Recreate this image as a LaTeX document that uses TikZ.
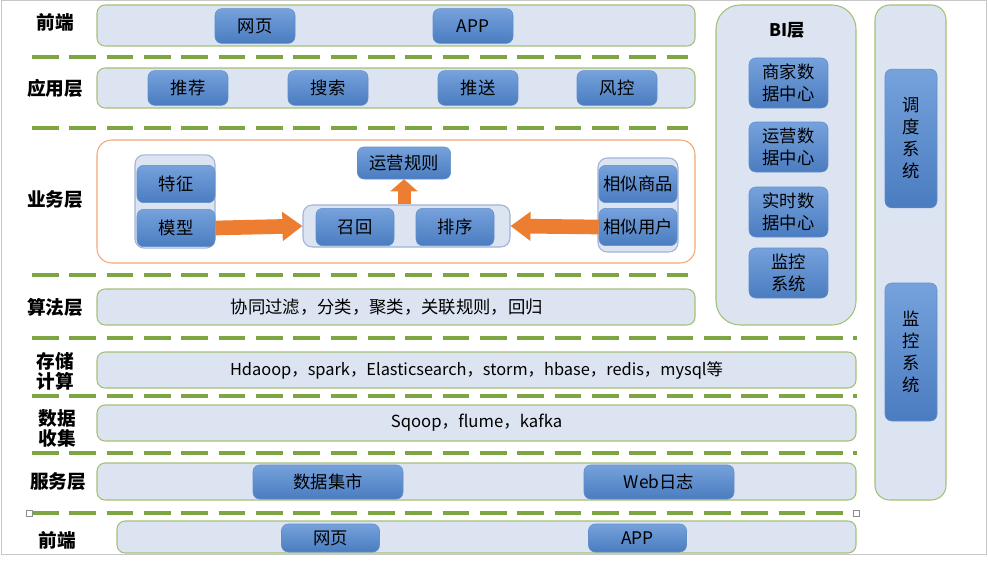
\documentclass[tikz,border=0pt]{standalone}
\usepackage{fontspec}
\setmainfont{Noto Sans CJK SC}
\usepackage{tikz}
\usetikzlibrary{positioning}
\usetikzlibrary{arrows.meta}
\usetikzlibrary{calc}
\definecolor{layerfill}{RGB}{220,227,241}
\definecolor{layerline}{RGB}{165,192,118}
\definecolor{sepgreen}{RGB}{125,165,65}
\definecolor{boxtop}{RGB}{118,162,220}
\definecolor{boxbot}{RGB}{74,124,192}
\definecolor{boxline}{RGB}{98,142,202}
\definecolor{grpline}{RGB}{160,180,215}
\definecolor{bizline}{RGB}{240,168,118}
\definecolor{arrorange}{RGB}{237,125,49}
\tikzstyle{layer}=[rectangle,draw=layerline,fill=layerfill,rounded corners=6pt,line width=0.8pt,inner sep=0pt,font=\fontsize{13}{15}\selectfont]
\tikzstyle{grp}=[rectangle,draw=grpline,fill=layerfill,rounded corners=7pt,line width=0.8pt,inner sep=0pt]
\tikzstyle{bluebox}=[rectangle,rounded corners=5pt,draw=boxline,top color=boxtop,bottom color=boxbot,inner sep=0pt,align=center,font=\fontsize{13}{16.5}\selectfont]
\tikzstyle{lbl}=[font=\fontsize{14}{15}\selectfont\bfseries,align=center]
\tikzstyle{sep}=[draw=sepgreen,line width=3pt,dash pattern=on 20pt off 8pt]
\tikzstyle{fat}=[draw=arrorange,line width=11pt,-{Triangle[length=15pt,width=21pt]}]
\tikzstyle{fatup}=[draw=arrorange,line width=9.75pt,-{Triangle[length=9pt,width=20pt]}]
\tikzstyle{handle}=[rectangle,draw=black!45,fill=white,minimum size=4.5pt,inner sep=0pt,line width=0.5pt]
\tikzset{sbox/.style={bluebox,minimum width=60pt,minimum height=26pt}}

\begin{document}
\begin{tikzpicture}[x=0.75pt,y=-0.75pt]

 \useasboundingbox (0,0) rectangle (988,560);
 \draw[black!22, line width=0.8pt] (1.5,0.5) rectangle (986.5,554.5);

 %layers
 \node[layer, minimum width=448.5pt, minimum height=30.75pt] (qd) at (396,25.5) {};
 \node[layer, minimum width=448.5pt, minimum height=30pt] (yy) at (396,88) {};
 \node[layer, draw=bizline, fill=white, rounded corners=11pt, minimum width=448.5pt, minimum height=92.25pt] (yw) at (396,201.5) {};
 \node[layer, minimum width=448.5pt, minimum height=27pt] (sf) at (396,307) {\hspace*{-14pt}协同过滤，分类，聚类，关联规则，回归};
 \node[layer, minimum width=569.25pt, minimum height=27pt, font=\fontsize{12.3}{15}\selectfont] (cc) at (476.5,370) {Hdaoop，spark，Elasticsearch，storm，hbase，redis，mysql等};
 \node[layer, minimum width=569.25pt, minimum height=27pt, font=\fontsize{12.5}{15}\selectfont] (sj) at (476.5,423) {Sqoop，flume，kafka};
 \node[layer, minimum width=569.25pt, minimum height=27.75pt] (fw) at (476.5,481.5) {};
 \node[layer, minimum width=554.25pt, minimum height=24pt] (qd2) at (486.5,537) {};
 \node[layer, rounded corners=18pt, minimum width=105pt, minimum height=240pt] (bi) at (786,165) {};
 \node[layer, rounded corners=11pt, minimum width=53.25pt, minimum height=371.25pt] (dd) at (910.5,252.5) {};

 %layer names
 \foreach \x/\y/\name/\label in {55/22/n1/前端, 55/88/n2/应用层, 55/200/n3/业务层, 55/307/n4/算法层,
          55/371/n5/{存储\\计算}, 57/428/n6/{数据\\收集}, 58/482/n7/服务层, 57/540/n8/前端}
          \node[lbl] (\name) at (\x,\y) {\label};
 \node[lbl, font=\fontsize{13}{15}\selectfont\bfseries] (bit) at (787,30) {BI层};

 %separators
 \foreach \y/\xe in {57/688, 128/688, 275/688, 338/857, 396/857, 453/857, 513/857}
          \draw[sep] (32,\y) -- (\xe,\y);
 \node[handle] (h1) at (29,513) {};
 \node[handle] (h2) at (856,513) {};

 %front + app boxes
 \foreach \x/\y/\name/\label in {255/26/wy/网页, 473/26/app/APP, 188/88/tj/推荐, 328/88/ss/搜索, 478/88/ts/推送, 617/88/fk/风控}
          \node[sbox] (\name) at (\x,\y) {\label};

 %business
 \node[grp, minimum width=60pt, minimum height=70pt] (grpL) at (175,201.5) {};
 \node[grp, minimum width=155.25pt, minimum height=31.5pt] (grpM) at (406.5,226) {};
 \node[grp, minimum width=60pt, minimum height=70.5pt] (grpR) at (638,205) {};
 \foreach \x/\y/\name/\label in {176/184/tz/特征, 176/228/mx/模型, 355/227/zh/召回, 455/227/px/排序,
          638/184/xssp/相似商品, 638/227/xsyh/相似用户}
          \node[sbox, minimum width=58.5pt, minimum height=28pt] (\name) at (\x,\y) {\label};
 \node[sbox, minimum width=70pt, minimum height=24pt] (yygz) at (404,163) {运营规则};

 \draw[fat] (mx.east) -- (grpM.west);
 \draw[fat] (xsyh.west) -- (grpM.east);
 \draw[fatup] (yygz.south |- grpM.north) -- (yygz.south);

 %BI
 \foreach \y/\name/\label in {83/bi1/{商家数\\据中心}, 147/bi2/{运营数\\据中心}, 212/bi3/{实时数\\据中心}, 273/bi4/{监控\\系统}}
          \node[bluebox, minimum width=59.25pt, minimum height=37.5pt] (\name) at (788.5,\y) {\label};

 %scheduling + monitoring
 \node[bluebox, minimum width=39pt, minimum height=104pt] (ddxt) at (911,138.5) {调\\度\\系\\统};
 \node[bluebox, minimum width=39pt, minimum height=103.5pt] (jkxt) at (911,352) {监\\控\\系\\统};

 %service + bottom front
 \foreach \x/\y/\name/\label in {328/482/sjjs/数据集市, 659/482/webrz/Web日志}
          \node[bluebox, minimum width=112.5pt, minimum height=25.5pt] (\name) at (\x,\y) {\label};
 \foreach \x/\y/\name/\label in {330.5/538/wy2/网页, 637.5/538/app2/APP}
          \node[bluebox, minimum width=73.5pt, minimum height=21pt] (\name) at (\x,\y) {\label};

\end{tikzpicture}
\end{document}
